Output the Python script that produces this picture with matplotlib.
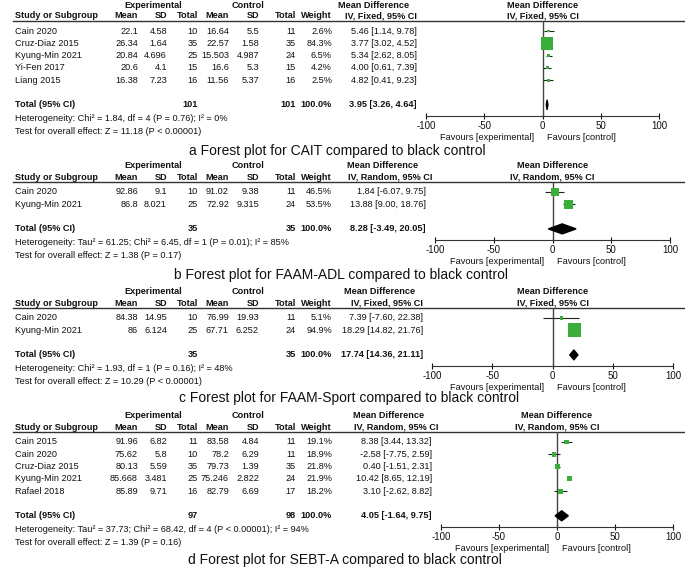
# forest plots for four outcomes, recreated with matplotlib

import matplotlib
matplotlib.use("Agg")
import matplotlib.pyplot as plt
from matplotlib.patches import Polygon

plt.rcParams['font.family'] = ['Liberation Sans', 'DejaVu Sans']

# panel a - CAIT
a_study = ["Cain 2020", "Cruz-Diaz 2015", "Kyung-Min 2021", "Yi-Fen 2017", "Liang 2015"]
a_exp_mean = [22.1, 26.34, 20.84, 20.6, 16.38]
a_exp_sd = [4.58, 1.64, 4.696, 4.1, 7.23]
a_exp_n = [10, 35, 25, 15, 16]
a_ctl_mean = [16.64, 22.57, 15.503, 16.6, 11.56]
a_ctl_sd = [5.5, 1.58, 4.987, 5.3, 5.37]
a_ctl_n = [11, 35, 24, 15, 16]
a_weight = [2.6, 84.3, 6.5, 4.2, 2.5]
a_md = [5.46, 3.77, 5.34, 4.00, 4.82]
a_lo = [1.14, 3.02, 2.62, 0.61, 0.41]
a_hi = [9.78, 4.52, 8.05, 7.39, 9.23]
a_total = [3.95, 3.26, 4.64]
a_n_total = [101, 101]
a_het = "Heterogeneity: Chi² = 1.84, df = 4 (P = 0.76); I² = 0%"
a_test = "Test for overall effect: Z = 11.18 (P < 0.00001)"

# panel b - FAAM-ADL
b_study = ["Cain 2020", "Kyung-Min 2021"]
b_exp_mean = [92.86, 86.8]
b_exp_sd = [9.1, 8.021]
b_exp_n = [10, 25]
b_ctl_mean = [91.02, 72.92]
b_ctl_sd = [9.38, 9.315]
b_ctl_n = [11, 24]
b_weight = [46.5, 53.5]
b_md = [1.84, 13.88]
b_lo = [-6.07, 9.00]
b_hi = [9.75, 18.76]
b_total = [8.28, -3.49, 20.05]
b_n_total = [35, 35]
b_het = "Heterogeneity: Tau² = 61.25; Chi² = 6.45, df = 1 (P = 0.01); I² = 85%"
b_test = "Test for overall effect: Z = 1.38 (P = 0.17)"

# panel c - FAAM-Sport
c_study = ["Cain 2020", "Kyung-Min 2021"]
c_exp_mean = [84.38, 86]
c_exp_sd = [14.95, 6.124]
c_exp_n = [10, 25]
c_ctl_mean = [76.99, 67.71]
c_ctl_sd = [19.93, 6.252]
c_ctl_n = [11, 24]
c_weight = [5.1, 94.9]
c_md = [7.39, 18.29]
c_lo = [-7.60, 14.82]
c_hi = [22.38, 21.76]
c_total = [17.74, 14.36, 21.11]
c_n_total = [35, 35]
c_het = "Heterogeneity: Chi² = 1.93, df = 1 (P = 0.16); I² = 48%"
c_test = "Test for overall effect: Z = 10.29 (P < 0.00001)"

# panel d - SEBT-A
d_study = ["Cain 2015", "Cain 2020", "Cruz-Diaz 2015", "Kyung-Min 2021", "Rafael 2018"]
d_exp_mean = [91.96, 75.62, 80.13, 85.668, 85.89]
d_exp_sd = [6.82, 5.8, 5.59, 3.481, 9.71]
d_exp_n = [11, 10, 35, 25, 16]
d_ctl_mean = [83.58, 78.2, 79.73, 75.246, 82.79]
d_ctl_sd = [4.84, 6.29, 1.39, 2.822, 6.69]
d_ctl_n = [11, 11, 35, 24, 17]
d_weight = [19.1, 18.9, 21.8, 21.9, 18.2]
d_md = [8.38, -2.58, 0.40, 10.42, 3.10]
d_lo = [3.44, -7.75, -1.51, 8.65, -2.62]
d_hi = [13.32, 2.59, 2.31, 12.19, 8.82]
d_total = [4.05, -1.64, 9.75]
d_n_total = [97, 98]
d_het = "Heterogeneity: Tau² = 37.73; Chi² = 68.42, df = 4 (P < 0.00001); I² = 94%"
d_test = "Test for overall effect: Z = 1.39 (P = 0.16)"

titles = ["a Forest plot for CAIT compared to black control",
          "b Forest plot for FAAM-ADL compared to black control",
          "c Forest plot for FAAM-Sport compared to black control",
          "d Forest plot for SEBT-A compared to black control"]
methods = ["IV, Fixed, 95% CI", "IV, Random, 95% CI", "IV, Fixed, 95% CI", "IV, Random, 95% CI"]
ticks = [-100, -50, 0, 50, 100]
col_names = ["Mean", "SD", "Total", "Mean", "SD", "Total", "Weight"]

W, H = 685, 571
FS = 6.6
TXT = '#111111'
GREEN = '#3aad3a'
col_x = [138, 167, 198, 229, 259, 296, 332]

fig = plt.figure(figsize=(W / 100, H / 100), dpi=100)
bg = fig.add_axes([0, 0, 1, 1])
bg.set_xlim(0, W)
bg.set_ylim(H, 0)
bg.axis('off')


def txt(x, y, s, ha='left', bold=False, size=FS):
    bg.text(x, y, s, ha=ha, va='center', fontsize=size, color=TXT,
            fontweight='bold' if bold else 'normal')


def draw_panel(top, x_lo, x_hi, title, title_xy, method, study, e_mean, e_sd, e_n,
               c_mean, c_sd, c_n, weight, md, lo, hi, total, n_total, het, test):
    line_y = top + 16
    rows = [top + 26 + 12.3 * i for i in range(len(study))]
    total_y = rows[-1] + 24.6
    axis_y = total_y + 11
    md_right = x_lo - 9
    zero_x = (x_lo + x_hi) / 2

    # headers
    txt(153, top, "Experimental", 'center', True)
    txt(248, top, "Control", 'center', True)
    txt(md_right - 43, top, "Mean Difference", 'center', True)
    txt(zero_x, top, "Mean Difference", 'center', True)
    txt(15, top + 11, "Study or Subgroup", bold=True)
    for x, name in zip(col_x, col_names):
        txt(x, top + 11, name, 'right', True)
    txt(md_right - 36, top + 11, method, 'center', True)
    txt(zero_x, top + 11, method, 'center', True)
    bg.plot([13, W], [line_y, line_y], color='#333333', lw=1)

    # study rows
    for i, y in enumerate(rows):
        txt(15, y, study[i])
        vals = [f"{e_mean[i]:g}", f"{e_sd[i]:g}", str(e_n[i]),
                f"{c_mean[i]:g}", f"{c_sd[i]:g}", str(c_n[i]), f"{weight[i]:.1f}%"]
        for x, v in zip(col_x, vals):
            txt(x, y, v, 'right')
        txt(md_right, y, f"{md[i]:.2f} [{lo[i]:.2f}, {hi[i]:.2f}]", 'right')

    # total rows
    txt(15, total_y, "Total (95% CI)", bold=True)
    txt(col_x[2], total_y, str(n_total[0]), 'right', True)
    txt(col_x[5], total_y, str(n_total[1]), 'right', True)
    txt(col_x[6], total_y, "100.0%", 'right', True)
    txt(md_right, total_y, f"{total[0]:.2f} [{total[1]:.2f}, {total[2]:.2f}]", 'right', True)
    txt(15, total_y + 13.5, het)
    txt(15, total_y + 26.5, test)

    # forest plot
    ax = fig.add_axes([x_lo / W, 1 - axis_y / H, (x_hi - x_lo) / W, (axis_y - line_y) / H])
    ax.set_xlim(-100, 100)
    ax.set_ylim(axis_y, line_y)
    ax.patch.set_alpha(0)
    ax.axvline(0, color='#444444', lw=1)
    ax.hlines(rows, lo, hi, color='#222222', lw=0.8)
    sizes = [((2.5 + 0.12 * w) * 0.72) ** 2 for w in weight]
    ax.scatter(md, rows, s=sizes, marker='s', color=GREEN, linewidths=0, zorder=3)
    dia = Polygon([[total[1], total_y], [total[0], total_y - 5],
                   [total[2], total_y], [total[0], total_y + 5]],
                  closed=True, color='black', zorder=3)
    ax.add_patch(dia)
    for s in ['top', 'left', 'right']:
        ax.spines[s].set_visible(False)
    ax.spines['bottom'].set_color('#333333')
    ax.set_yticks([])
    ax.set_xticks(ticks)
    ax.set_xticklabels([str(t) for t in ticks])
    ax.tick_params(axis='x', direction='inout', length=5, width=0.8,
                   labelsize=7, pad=1, colors=TXT)
    txt(zero_x - 8, axis_y + 22, "Favours [experimental]", 'right')
    txt(zero_x + 5, axis_y + 22, "Favours [control]")

    # panel caption
    txt(title_xy[0], title_xy[1], title, 'center', size=10)


panel_top = [5, 166, 292, 416]
axis_span = [(426, 659), (435, 670), (432, 673), (441, 673)]
title_pos = [(337, 151), (341, 275), (349, 398), (345, 560)]

draw_panel(panel_top[0], *axis_span[0], titles[0], title_pos[0], methods[0],
           a_study, a_exp_mean, a_exp_sd, a_exp_n, a_ctl_mean, a_ctl_sd, a_ctl_n,
           a_weight, a_md, a_lo, a_hi, a_total, a_n_total, a_het, a_test)
draw_panel(panel_top[1], *axis_span[1], titles[1], title_pos[1], methods[1],
           b_study, b_exp_mean, b_exp_sd, b_exp_n, b_ctl_mean, b_ctl_sd, b_ctl_n,
           b_weight, b_md, b_lo, b_hi, b_total, b_n_total, b_het, b_test)
draw_panel(panel_top[2], *axis_span[2], titles[2], title_pos[2], methods[2],
           c_study, c_exp_mean, c_exp_sd, c_exp_n, c_ctl_mean, c_ctl_sd, c_ctl_n,
           c_weight, c_md, c_lo, c_hi, c_total, c_n_total, c_het, c_test)
draw_panel(panel_top[3], *axis_span[3], titles[3], title_pos[3], methods[3],
           d_study, d_exp_mean, d_exp_sd, d_exp_n, d_ctl_mean, d_ctl_sd, d_ctl_n,
           d_weight, d_md, d_lo, d_hi, d_total, d_n_total, d_het, d_test)

plt.savefig("out.png", dpi=100)
